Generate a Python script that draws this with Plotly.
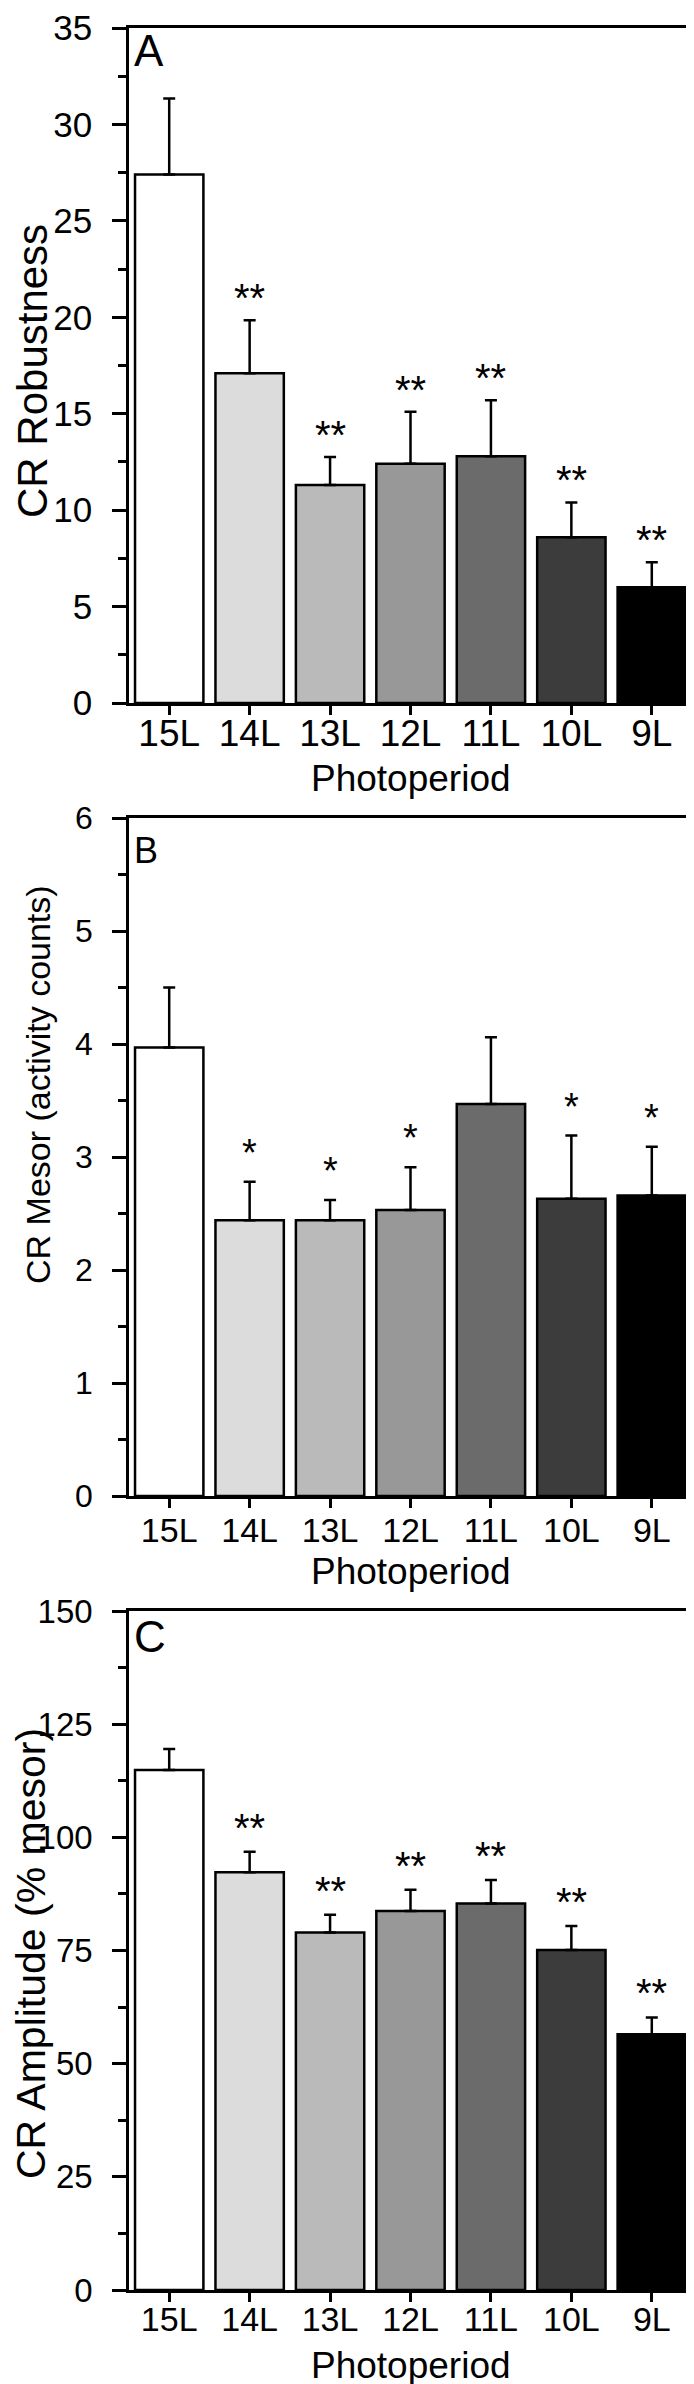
import plotly.graph_objects as go

W, H = 694, 2384

categories = ["15L", "14L", "13L", "12L", "11L", "10L", "9L"]
bar_colors = ["#FFFFFF", "#DCDCDC", "#BABABA", "#989898", "#6B6B6B", "#3C3C3C", "#000000"]

robust_mean = [27.4, 17.1, 11.3, 12.4, 12.8, 8.6, 6.0]
robust_sem = [3.95, 2.75, 1.45, 2.7, 2.9, 1.8, 1.3]
robust_sig = ["", "**", "**", "**", "**", "**", "**"]

mesor_mean = [3.97, 2.44, 2.44, 2.53, 3.47, 2.63, 2.66]
mesor_sem = [0.53, 0.34, 0.18, 0.38, 0.59, 0.56, 0.43]
mesor_sig = ["", "*", "*", "*", "", "*", "*"]

amp_mean = [114.9, 92.3, 79.0, 83.7, 85.4, 75.1, 56.5]
amp_sem = [4.6, 4.5, 3.9, 4.7, 5.2, 5.3, 3.7]
amp_sig = ["", "**", "**", "**", "**", "**", "**"]

FONT = "Liberation Sans, Arial, Helvetica, sans-serif"

def px(x):
    return x / W

def py(y):
    return 1 - y / H

X0, X1 = 121, 684

panels = [
    dict(mean=robust_mean, sem=robust_sem, sig=robust_sig, top=20, zero=695, ymax=35, dtick=5, minor=2.5,
         title="CR Robustness", tsize=42, tx=24, tyc=363, letter="A", lsize=44, ltop=25,
         xtick=37, ytick=35, xstand=-13, starsize=40, starshift=-2),
    dict(mean=mesor_mean, sem=mesor_sem, sig=mesor_sig, top=810, zero=1488, ymax=6, dtick=1, minor=0.5,
         title="CR Mesor (activity counts)", tsize=34, tx=30, tyc=1077, letter="B", lsize=36, ltop=828,
         xtick=34, ytick=32, xstand=-7, starsize=38, starshift=6),
    dict(mean=amp_mean, sem=amp_sem, sig=amp_sig, top=1603, zero=2282, ymax=150, dtick=25, minor=12.5,
         title="CR Amplitude (% mesor)", tsize=41, tx=23, tyc=1946, letter="C", lsize=44, ltop=1611,
         xtick=34, ytick=33, xstand=-12, starsize=40, starshift=0),
]

fig = go.Figure()
annotations = []
layout = {}

for i, p in enumerate(panels):
    n = "" if i == 0 else str(i + 1)
    xa, ya = "x" + n, "y" + n
    fig.add_trace(go.Bar(
        x=categories, y=p["mean"], xaxis=xa, yaxis=ya,
        width=0.85,
        marker=dict(color=bar_colors, line=dict(color="black", width=2.5)),
        error_y=dict(type="data", symmetric=False, array=p["sem"], arrayminus=[0] * 7,
                     color="black", thickness=2.5, width=6),
        showlegend=False, hoverinfo="skip",
    ))
    layout["xaxis" + n] = dict(
        domain=[px(X0), px(X1)], anchor=ya, type="category", range=[-0.5, 6.5],
        showline=True, linecolor="black", linewidth=2.5, mirror=True,
        ticks="outside", ticklen=9, tickwidth=2.5, tickcolor="black",
        tickfont=dict(family=FONT, size=p["xtick"], color="black"),
        ticklabelstandoff=p["xstand"], showgrid=False, zeroline=False, fixedrange=True,
        automargin=False,
    )
    layout["yaxis" + n] = dict(
        domain=[py(p["zero"]), py(p["top"])], anchor=xa, range=[0, p["ymax"]],
        dtick=p["dtick"], tick0=0,
        showline=True, linecolor="black", linewidth=2.5, mirror=True,
        ticks="outside", ticklen=14, tickwidth=2.5, tickcolor="black",
        minor=dict(ticks="outside", ticklen=8, tickwidth=2.5, tickcolor="black", dtick=p["minor"],
                   showgrid=False),
        tickfont=dict(family=FONT, size=p["ytick"], color="black"),
        ticklabelstandoff=13, ticklabeloverflow="allow",
        showgrid=False, zeroline=False, fixedrange=True,
        automargin=False,
    )
    for c, m, s, t in zip(categories, p["mean"], p["sem"], p["sig"]):
        if t:
            annotations.append(dict(
                x=c, y=m + s, xref=xa, yref=ya, text=t, showarrow=False,
                yanchor="bottom", xanchor="center", yshift=p["starshift"],
                font=dict(family=FONT, size=p["starsize"], color="black"),
            ))
    annotations.append(dict(
        x=px(124), y=py(p["ltop"] - 0.189 * p["lsize"] - 1), xref="paper", yref="paper",
        text=p["letter"], showarrow=False, xanchor="left", yanchor="top",
        font=dict(family=FONT, size=p["lsize"], color="black"),
    ))
    annotations.append(dict(
        x=px(p["tx"]), y=py(p["tyc"]), xref="paper", yref="paper",
        text=p["title"], showarrow=False, textangle=-90, xanchor="center", yanchor="middle",
        font=dict(family=FONT, size=p["tsize"], color="black"),
    ))
    annotations.append(dict(
        x=px((X0 + X1) / 2), y=py(p["zero"] + 75), xref="paper", yref="paper",
        text="Photoperiod", showarrow=False, xanchor="center", yanchor="middle",
        font=dict(family=FONT, size=37, color="black"),
    ))

fig.update_layout(
    width=W, height=H,
    margin=dict(l=0, r=0, t=0, b=0, pad=0, autoexpand=False),
    paper_bgcolor="white", plot_bgcolor="white",
    showlegend=False,
    annotations=annotations,
    **layout,
)

fig.write_html("out.html")
